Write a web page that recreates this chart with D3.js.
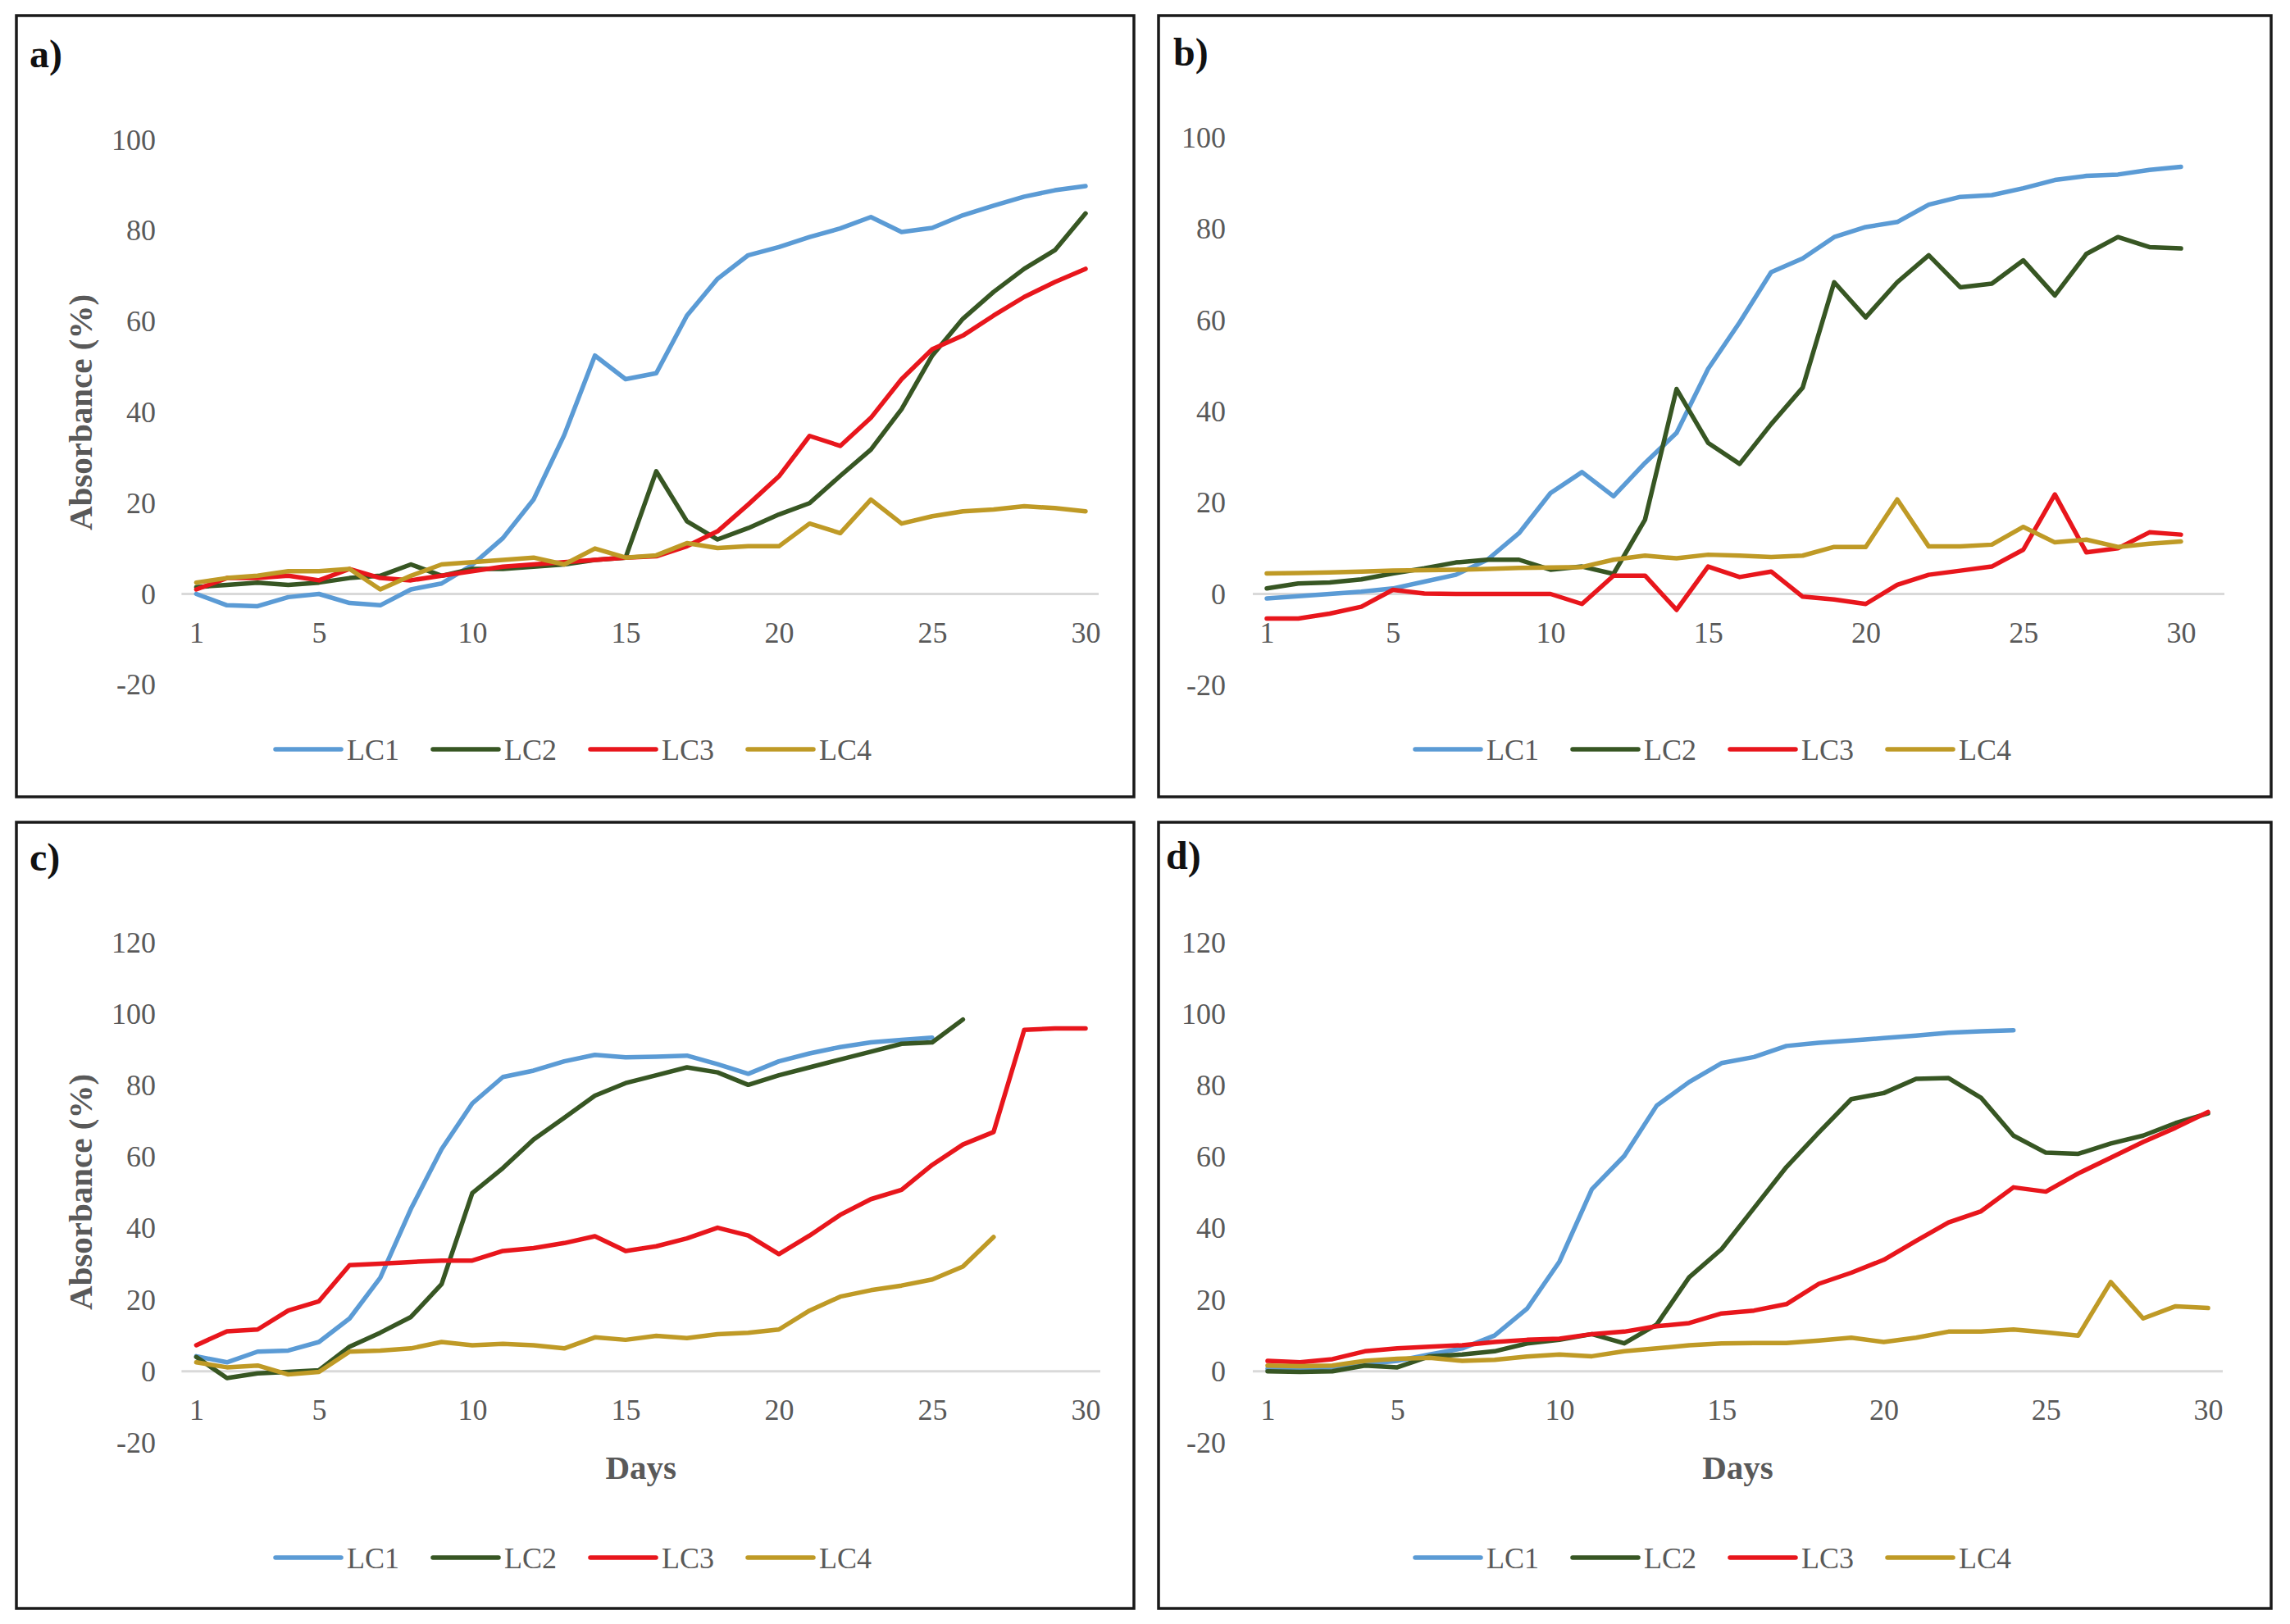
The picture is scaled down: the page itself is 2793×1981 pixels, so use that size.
<!DOCTYPE html>
<html>
<head>
<meta charset="utf-8">
<script src="https://cdn.jsdelivr.net/npm/d3@7"></script>
<style>
  body { margin: 0; background: #fff; }
  text { font-family: "Liberation Serif", "Times New Roman", serif; }
</style>
</head>
<body>
<div id="chart"></div>
<script>
const days = [1, 2, 3, 4, 5, 6, 7, 8, 9, 10, 11, 12, 13, 14, 15, 16, 17, 18, 19, 20, 21, 22, 23, 24, 25, 26, 27, 28, 29, 30];
const seriesNames = ["LC1", "LC2", "LC3", "LC4"];
const seriesColors = ["#5b9bd5", "#375623", "#e8161c", "#bf9a26"];
const xTickValues = [1, 5, 10, 15, 20, 25, 30];
const yTicksAB = [-20, 0, 20, 40, 60, 80, 100];
const yTicksCD = [-20, 0, 20, 40, 60, 80, 100, 120];

// panel a
const aLC1 = [0, -2.5, -2.7, -0.7, 0, -2, -2.5, 1, 2.3, 6.4, 12.3, 20.8, 35, 52.5, 47.3, 48.6, 61.3, 69.4, 74.6, 76.4, 78.6, 80.5, 83, 79.7, 80.6, 83.4, 85.5, 87.5, 88.9, 89.8];
const aLC2 = [1.5, 2, 2.5, 2, 2.5, 3.5, 4, 6.5, 4, 5.5, 5.5, 6, 6.5, 7.5, 8, 27, 16, 12, 14.5, 17.5, 20, 26, 31.8, 40.7, 52.5, 60.6, 66.5, 71.6, 75.7, 83.8];
const aLC3 = [1, 3.5, 3.5, 4, 3, 5.5, 3.5, 3, 4, 5, 6, 6.5, 7, 7.5, 8, 8.3, 10.5, 13.8, 19.7, 25.9, 34.8, 32.6, 38.8, 47.3, 53.9, 56.9, 61.3, 65.4, 68.7, 71.6];
const aLC4 = [2.5, 3.5, 4, 5, 5, 5.5, 1, 4, 6.5, 7, 7.5, 8, 6.5, 10, 8, 8.5, 11.2, 10.1, 10.5, 10.5, 15.5, 13.4, 20.8, 15.5, 17.1, 18.2, 18.6, 19.3, 18.9, 18.2];

// panel b
const bLC1 = [-1, -0.5, 0, 0.5, 1.2, 2.7, 4.2, 7.5, 13.3, 22.1, 26.7, 21.4, 28.7, 35.3, 49.3, 59.5, 70.5, 73.5, 78.2, 80.4, 81.5, 85.3, 87, 87.4, 88.9, 90.7, 91.6, 91.9, 92.9, 93.6];
const bLC2 = [1.2, 2.3, 2.5, 3.2, 4.5, 5.6, 6.9, 7.5, 7.5, 5.3, 6, 4.4, 16.3, 44.9, 33.1, 28.5, 37.2, 45.2, 68.3, 60.6, 68.3, 74.2, 67.2, 68, 73.1, 65.4, 74.5, 78.2, 76, 75.7];
const bLC3 = [-5.4, -5.4, -4.3, -2.8, 0.9, 0.1, 0, 0, 0, 0, -2.2, 4, 4, -3.5, 6, 3.7, 4.9, -0.6, -1.2, -2.2, 2, 4.2, 5.1, 6, 9.7, 21.8, 9.1, 10, 13.5, 13];
const bLC4 = [4.5, 4.6, 4.7, 4.9, 5.1, 5.2, 5.3, 5.5, 5.7, 5.8, 5.9, 7.5, 8.4, 7.8, 8.6, 8.4, 8.1, 8.4, 10.3, 10.3, 20.7, 10.4, 10.4, 10.8, 14.7, 11.3, 11.9, 10.3, 11, 11.5];

// panel c (some series stop early)
const cLC1 = [4.2, 2.5, 5.5, 5.8, 8.2, 14.8, 26.2, 45.5, 62.2, 75, 82.4, 84.2, 86.8, 88.6, 87.9, 88.1, 88.4, 86, 83.3, 86.8, 89, 90.8, 92.1, 92.8, 93.4];
const cLC2 = [4, -1.9, -0.6, -0.2, 0.3, 6.9, 10.8, 15.2, 24.4, 49.9, 56.9, 64.9, 71, 77.2, 80.7, 82.9, 85.1, 83.7, 80.2, 82.9, 85.1, 87.3, 89.5, 91.7, 92.1, 98.5];
const cLC3 = [7.3, 11.2, 11.7, 17, 19.6, 29.7, 30.1, 30.6, 31, 31, 33.7, 34.5, 35.9, 37.8, 33.7, 35, 37.2, 40.2, 38, 32.8, 38, 43.8, 48.2, 50.8, 57.8, 63.5, 67, 95.6, 96, 96];
const cLC4 = [2.5, 1.1, 1.6, -0.9, -0.2, 5.5, 5.8, 6.4, 8.2, 7.3, 7.7, 7.3, 6.4, 9.5, 8.8, 9.9, 9.3, 10.4, 10.8, 11.7, 17, 20.9, 22.7, 24, 25.7, 29.3, 37.6];

// panel d
const dLC1 = [0.7, 0.9, 1.1, 2, 2.9, 4.7, 6.4, 10, 17.5, 30.7, 51, 60.3, 74.4, 81, 86.3, 88, 91.1, 92, 92.6, 93.3, 94, 94.8, 95.2, 95.5];
const dLC2 = [0, -0.2, 0, 1.6, 1.1, 4.2, 4.7, 5.6, 7.8, 8.8, 10.4, 7.8, 13.1, 26.3, 34.2, 45.7, 57.2, 66.9, 76.2, 77.9, 81.9, 82.1, 76.6, 66, 61.2, 60.9, 63.8, 66, 69.5, 72.2];
const dLC3 = [2.9, 2.5, 3.4, 5.6, 6.4, 6.9, 7.3, 8.2, 8.8, 9.1, 10.4, 11.1, 12.6, 13.5, 16.2, 17, 18.8, 24.5, 27.6, 31.2, 36.5, 41.7, 44.8, 51.5, 50.3, 55.4, 59.8, 64.2, 68.2, 72.6];
const dLC4 = [1.6, 1.4, 1.6, 2.9, 3.5, 3.8, 2.9, 3.2, 4.1, 4.7, 4.2, 5.6, 6.4, 7.3, 7.8, 7.9, 7.9, 8.6, 9.4, 8.2, 9.4, 11.1, 11.1, 11.7, 10.9, 10, 25, 14.8, 18.2, 17.7];

const width = 2793, height = 1981;
const greyText = "#595959";
const serif = "'Liberation Serif', 'Times New Roman', serif";

const panels = [
    { label: "a)", series: [aLC1, aLC2, aLC3, aLC4], yTicks: yTicksAB,
      box: [20, 19, 1383, 972], labelPos: [36, 82],
      xRange: [239.4, 1324], yTopVal: 100, yRange: [724.5, 170.6], axisPad: [18, 16],
      yLabelX: 190, yTitle: [98, 503], xTitleY: null, legend: [701, 914] },
    { label: "b)", series: [bLC1, bLC2, bLC3, bLC4], yTicks: yTicksAB,
      box: [1413, 19, 2770, 972], labelPos: [1431, 80],
      xRange: [1545, 2660], yTopVal: 100, yRange: [724.5, 167.8], axisPad: [17, 53],
      yLabelX: 1495, yTitle: null, xTitleY: null, legend: [2091, 914] },
    { label: "c)", series: [cLC1, cLC2, cLC3, cLC4], yTicks: yTicksCD,
      box: [20, 1003, 1383, 1962], labelPos: [36, 1062],
      xRange: [239.4, 1324], yTopVal: 120, yRange: [1672.7, 1150], axisPad: [18, 18],
      yLabelX: 190, yTitle: [98, 1454], xTitleY: 1804, legend: [701, 1900] },
    { label: "d)", series: [dLC1, dLC2, dLC3, dLC4], yTicks: yTicksCD,
      box: [1413, 1003, 2770, 1962], labelPos: [1422, 1060],
      xRange: [1546, 2693], yTopVal: 120, yRange: [1672.7, 1150], axisPad: [18, 18],
      yLabelX: 1495, yTitle: null, xTitleY: 1804, legend: [2091, 1900] }
];

const svg = d3.select("#chart").append("svg")
    .attr("width", width)
    .attr("height", height)
    .attr("viewBox", [0, 0, width, height]);

svg.append("rect").attr("width", width).attr("height", height).attr("fill", "#fff");

panels.forEach(p => {
    const g = svg.append("g");
    const [bx0, by0, bx1, by1] = p.box;

    g.append("rect")
        .attr("x", bx0).attr("y", by0)
        .attr("width", bx1 - bx0).attr("height", by1 - by0)
        .attr("fill", "none")
        .attr("stroke", "#1a1a1a")
        .attr("stroke-width", 3.5);

    g.append("text")
        .attr("x", p.labelPos[0]).attr("y", p.labelPos[1])
        .attr("font-size", 48).attr("font-weight", "bold")
        .attr("fill", "#111")
        .text(p.label);

    const xScale = d3.scaleLinear().domain([1, 30]).range(p.xRange);
    const yScale = d3.scaleLinear().domain([0, p.yTopVal]).range(p.yRange);

    // y tick labels only, Excel style with a plain hyphen for negatives
    const yAxis = g.append("g")
        .attr("transform", `translate(${p.yLabelX},0)`)
        .call(d3.axisLeft(yScale).tickValues(p.yTicks).tickFormat(d => String(d)).tickSize(0).tickPadding(0));
    yAxis.select(".domain").remove();
    yAxis.attr("font-family", serif);
    yAxis.selectAll("text")
        .attr("font-size", 36)
        .attr("fill", greyText);

    // horizontal axis line at zero
    g.append("line")
        .attr("x1", xScale(1) - p.axisPad[0])
        .attr("x2", xScale(30) + p.axisPad[1])
        .attr("y1", yScale(0)).attr("y2", yScale(0))
        .attr("stroke", "#d9d9d9")
        .attr("stroke-width", 3);

    const xAxis = g.append("g")
        .attr("transform", `translate(0,${yScale(0)})`)
        .call(d3.axisBottom(xScale).tickValues(xTickValues).tickFormat(d => String(d)).tickSize(0).tickPadding(34));
    xAxis.select(".domain").remove();
    xAxis.attr("font-family", serif);
    xAxis.selectAll("text")
        .attr("font-size", 36)
        .attr("fill", greyText);

    const lineGen = d3.line()
        .x((d, i) => xScale(days[i]))
        .y(d => yScale(d));

    g.selectAll(".series")
        .data(p.series)
        .join("path")
            .attr("class", "series")
            .attr("d", lineGen)
            .attr("fill", "none")
            .attr("stroke", (d, i) => seriesColors[i])
            .attr("stroke-width", 5.5)
            .attr("stroke-linejoin", "round")
            .attr("stroke-linecap", "round");

    if (p.yTitle) {
        g.append("text")
            .attr("transform", `translate(${p.yTitle[0]},${p.yTitle[1]}) rotate(-90)`)
            .attr("text-anchor", "middle")
            .attr("dy", "0.35em")
            .attr("font-size", 41).attr("font-weight", "bold")
            .attr("fill", greyText)
            .text("Absorbance (%)");
    }

    if (p.xTitleY) {
        g.append("text")
            .attr("x", (xScale(1) - p.axisPad[0] + xScale(30) + p.axisPad[1]) / 2)
            .attr("y", p.xTitleY)
            .attr("text-anchor", "middle")
            .attr("font-size", 41).attr("font-weight", "bold")
            .attr("fill", greyText)
            .text("Days");
    }

    // legend
    const itemStep = 192, lineLen = 80, textGap = 7;
    const legendWidth = itemStep * 3 + lineLen + textGap + 67;
    const lx0 = p.legend[0] - legendWidth / 2;
    const items = g.selectAll(".legend-item")
        .data(seriesNames)
        .join("g")
            .attr("class", "legend-item")
            .attr("transform", (d, i) => `translate(${lx0 + i * itemStep},${p.legend[1]})`);
    items.append("line")
        .attr("x1", 0).attr("x2", lineLen)
        .attr("stroke", (d, i) => seriesColors[i])
        .attr("stroke-width", 5.5)
        .attr("stroke-linecap", "round");
    items.append("text")
        .attr("x", lineLen + textGap)
        .attr("dy", "0.35em")
        .attr("font-size", 36)
        .attr("fill", greyText)
        .text(d => d);
});
</script>
</body>
</html>
